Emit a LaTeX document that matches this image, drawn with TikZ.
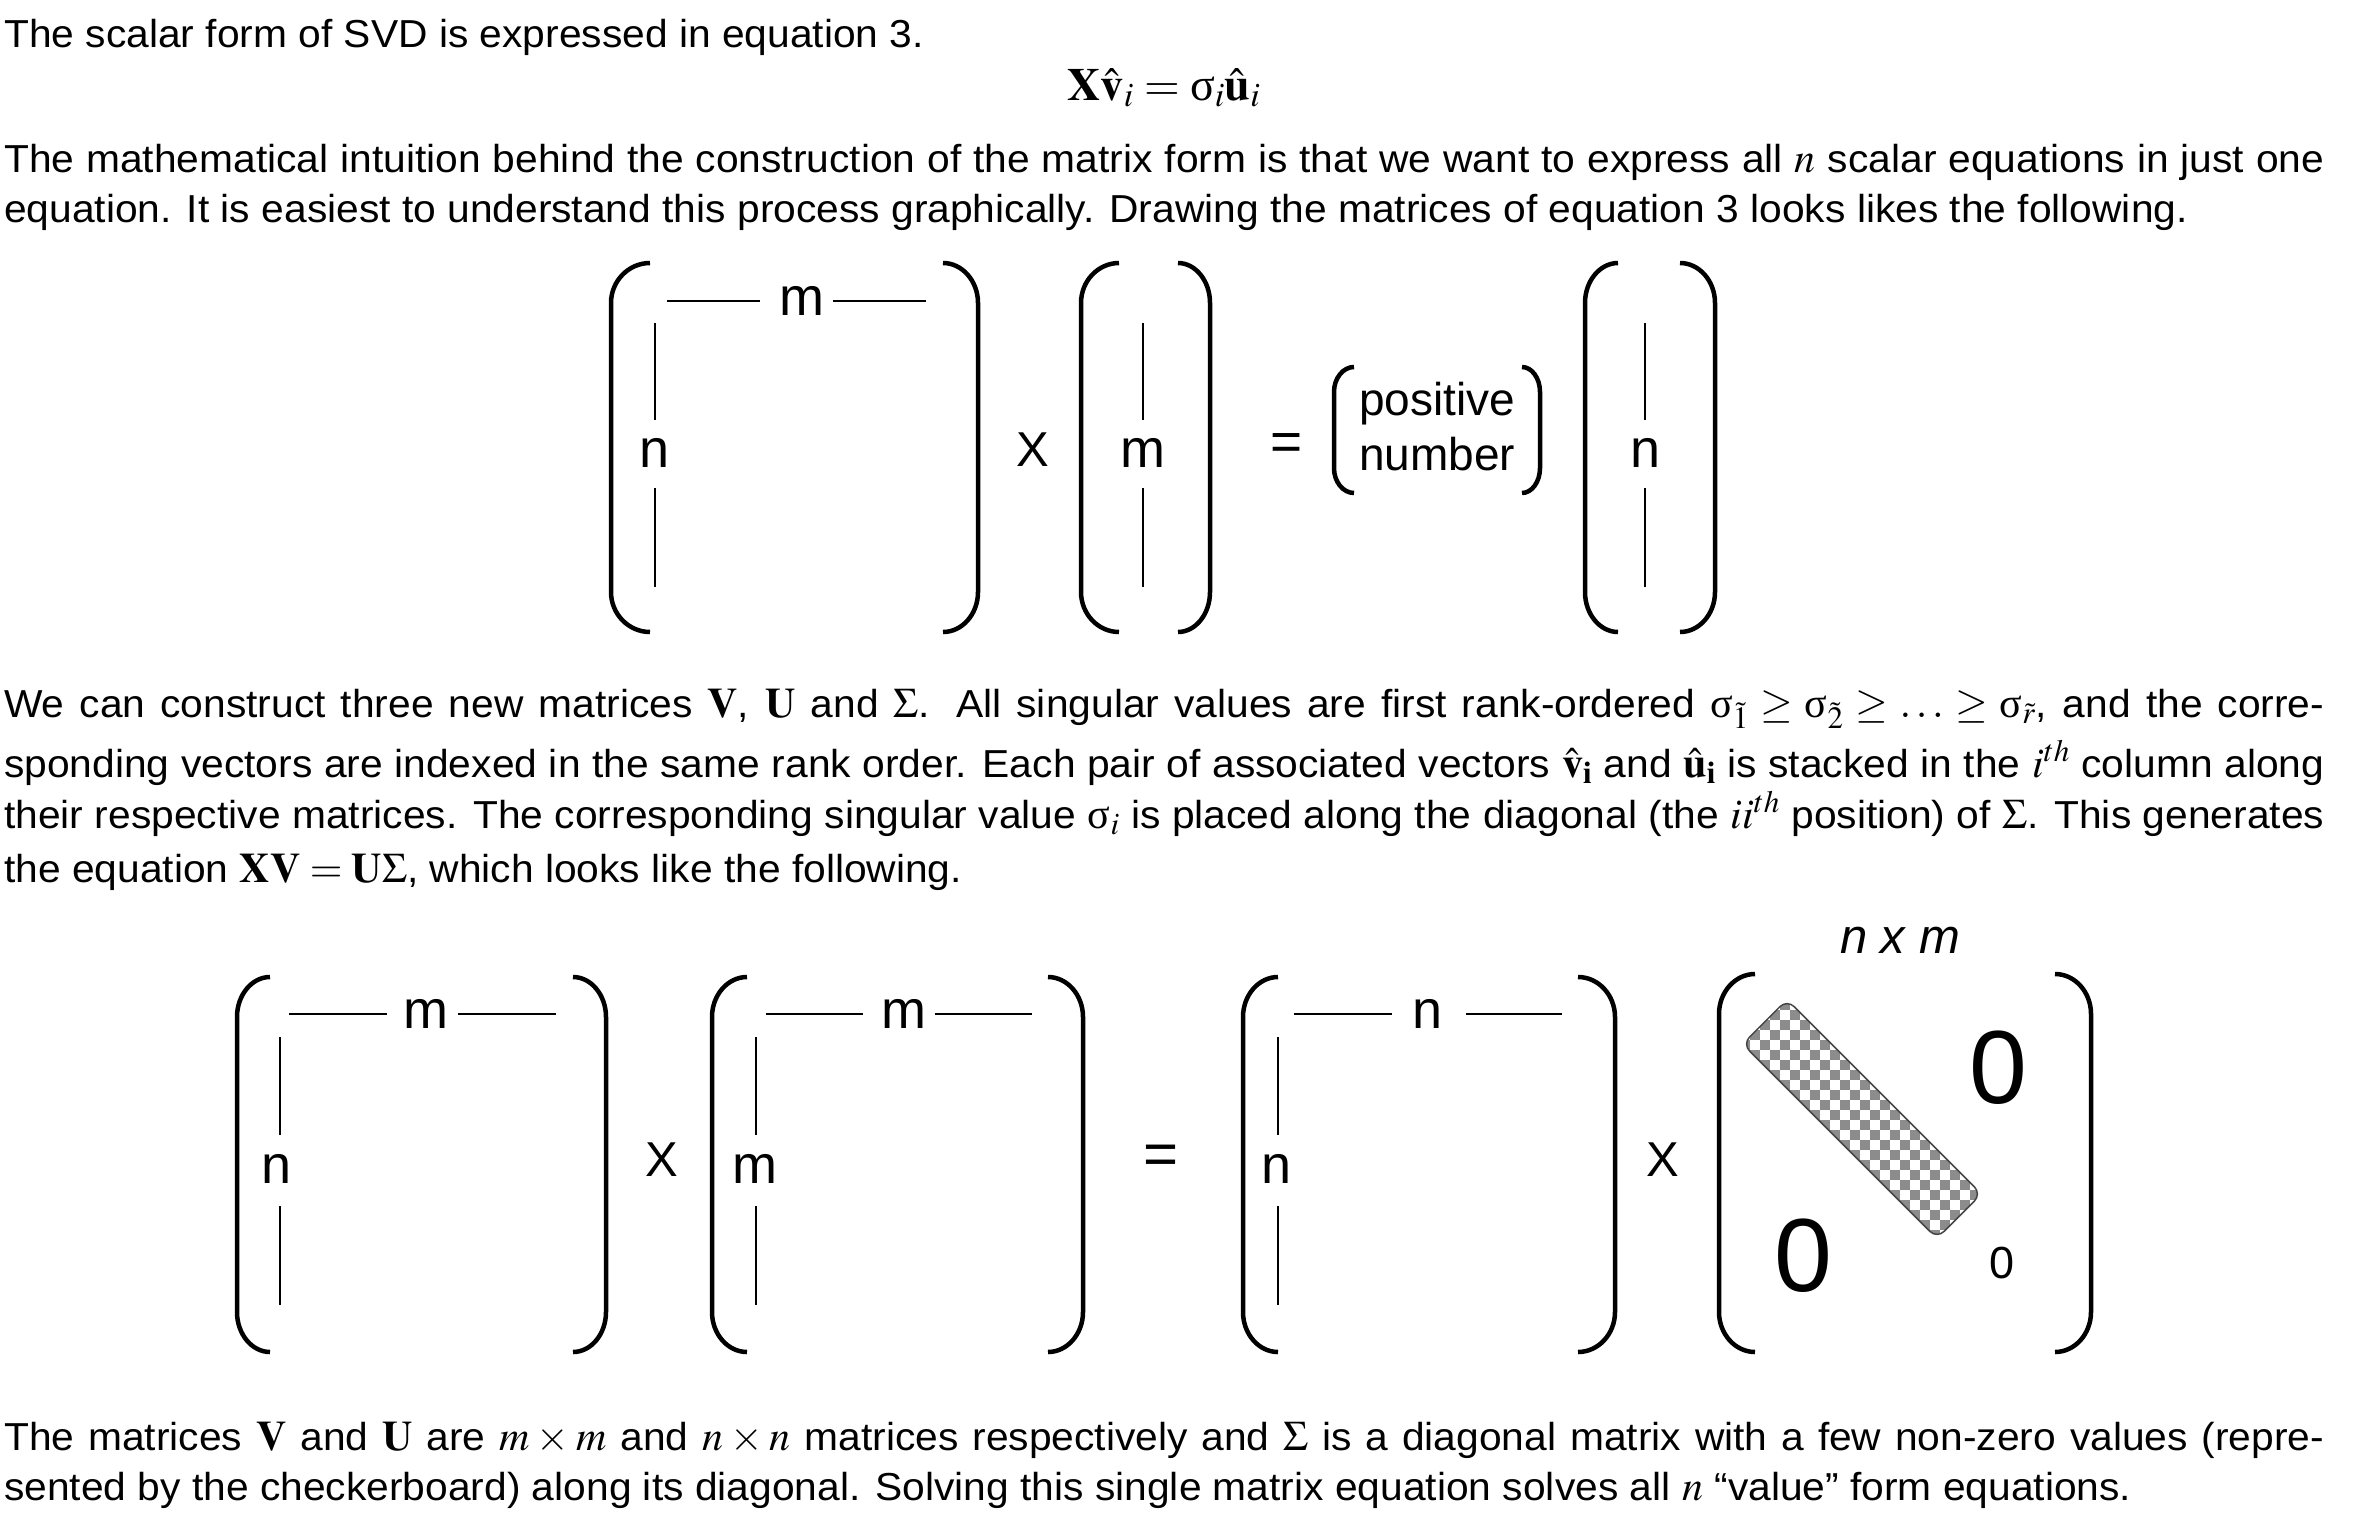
\documentclass[tikz,border=0pt]{standalone}
\usepackage{mathptmx}
\usepackage[no-math]{fontspec}
\setmainfont{Liberation Sans}
\newfontfamily\bodyfont{Liberation Sans}[FakeStretch=1.045]
\newfontfamily\grk{Liberation Serif}
\newcommand{\usig}{\mathord{\mbox{\grk σ}}}
\newcommand{\M}[1]{{\fontsize{42}{45}\selectfont$#1$}}
\definecolor{checkgray}{RGB}{140,140,140}
\definecolor{edgegray}{RGB}{70,70,70}
\newcommand{\Bracket}[5]{%
  \draw[paren] (#2,#3) .. controls ({#1+0.45*(#2-#1)},#3) and (#1,{#3+0.45*#5}) .. (#1,{#3+#5})
    -- (#1,{#4-#5}) .. controls (#1,{#4-0.45*#5}) and ({#1+0.45*(#2-#1)},#4) .. (#2,#4);}
\newcommand{\JL}[1]{\makebox[2320pt][s]{#1}}
\begin{document}
\begin{tikzpicture}[x=1pt,y=-1pt,
  txt/.style={anchor=base west,inner sep=0pt,font=\bodyfont\fontsize{39}{45}\selectfont},
  paren/.style={line width=4.5pt},
  dimln/.style={line width=1.8pt},
  lbl/.style={anchor=base,inner sep=0pt,font=\fontsize{54}{60}\selectfont},
  op/.style={inner sep=0pt,font=\fontsize{49}{55}\selectfont},
  small/.style={anchor=base west,inner sep=0pt,font=\fontsize{46}{50}\selectfont}]
\path[use as bounding box, fill=white] (0,0) rectangle (2354,1521);

% ---------- text ----------
\node[txt] (t1) at (4,47) {The scalar form of SVD is expressed in equation 3.};
\node[anchor=base,inner sep=0pt,font=\fontsize{46}{50}\selectfont] (eqn) at (1164,100)
  {$\mathbf{X}\hat{\mathbf{v}}_i=\usig_i\hat{\mathbf{u}}_i$};
\node[txt] (p2a) at (4,172) {\JL{The mathematical intuition behind the construction of the matrix form is that we want to express all \M{n} scalar equations in just one}};
\node[txt] (p2b) at (4,222) {equation. It is easiest to understand this process graphically. Drawing the matrices of equation 3 looks likes the following.};

\node[txt] (p3a) at (4,717) {\JL{We can construct three new matrices \M{\mathbf{V}}, \M{\mathbf{U}} and \M{\Sigma}. All singular values are first rank-ordered \M{\usig_{\tilde{1}}\geq\usig_{\tilde{2}}\geq\ldots\geq\usig_{\tilde{r}}}, and the corre-}};
\node[txt] (p3b) at (4,777) {\JL{sponding vectors are indexed in the same rank order. Each pair of associated vectors \M{\hat{\mathbf{v}}_\mathbf{i}} and \M{\hat{\mathbf{u}}_\mathbf{i}} is stacked in the \M{i^{th}} column along}};
\node[txt] (p3c) at (4,828) {\JL{their respective matrices. The corresponding singular value \M{\usig_i} is placed along the diagonal (the \M{ii^{th}} position) of \M{\Sigma}. This generates}};
\node[txt] (p3d) at (4,882) {the equation \M{\mathbf{XV}=\mathbf{U}\Sigma}, which looks like the following.};

\node[txt] (p4a) at (4,1450) {\JL{The matrices \M{\mathbf{V}} and \M{\mathbf{U}} are \M{m\times m} and \M{n\times n} matrices respectively and \M{\Sigma} is a diagonal matrix with a few non-zero values (repre-}};
\node[txt] (p4b) at (4,1500) {sented by the checkerboard) along its diagonal. Solving this single matrix equation solves all \M{n} “value” form equations.};

% ---------- top diagram ----------
\Bracket{611}{650}{263}{632}{40}
\Bracket{978}{943}{263}{632}{40}
\draw[dimln] (667,301)--(760,301) (833,301)--(926,301);
\node[lbl] (mA) at (802,315) {m};
\draw[dimln] (655,323)--(655,420) (655,488)--(655,587);
\node[lbl] (nA) at (655,467) {n};
\node[op] (x1) at (1033,450) {X};
\Bracket{1081}{1119}{263}{632}{40}
\Bracket{1210}{1178}{263}{632}{40}
\draw[dimln] (1143,323)--(1143,420) (1143,488)--(1143,587);
\node[lbl] (mB) at (1143,467) {m};
\node[op,font=\fontsize{55}{60}\selectfont] (eq1) at (1287,447) {=};
\Bracket{1334}{1354}{367}{493}{25}
\Bracket{1540}{1522}{367}{493}{25}
\node[small] (pos) at (1359,415) {positive};
\node[small] (num) at (1359,470) {number};
\Bracket{1585}{1618}{263}{632}{40}
\Bracket{1715}{1680}{263}{632}{40}
\draw[dimln] (1645,323)--(1645,420) (1645,488)--(1645,587);
\node[lbl] (nC) at (1645,467) {n};

% ---------- bottom diagram ----------
\Bracket{237}{270}{977}{1352}{40}
\Bracket{606}{573}{977}{1352}{40}
\draw[dimln] (289,1014)--(387,1014) (458,1014)--(556,1014);
\node[lbl] (mX) at (426,1028) {m};
\draw[dimln] (280,1037)--(280,1135) (280,1206)--(280,1305);
\node[lbl] (nX) at (277,1183) {n};
\node[op] (x2) at (662,1160) {X};
\Bracket{712}{747}{977}{1352}{40}
\Bracket{1083}{1048}{977}{1352}{40}
\draw[dimln] (766,1014)--(863,1014) (935,1014)--(1032,1014);
\node[lbl] (mV) at (904,1028) {m};
\draw[dimln] (756,1037)--(756,1135) (756,1206)--(756,1305);
\node[lbl] (mV2) at (755,1183) {m};
\node[op,font=\fontsize{60}{66}\selectfont] (eq2) at (1161,1160) {=};
\Bracket{1243}{1278}{977}{1352}{40}
\Bracket{1615}{1578}{977}{1352}{40}
\draw[dimln] (1294,1014)--(1392,1014) (1466,1014)--(1562,1014);
\node[lbl] (nU) at (1428,1028) {n};
\draw[dimln] (1278,1037)--(1278,1135) (1278,1206)--(1278,1305);
\node[lbl] (nU2) at (1277,1183) {n};
\node[op] (x3) at (1663,1160) {X};
\Bracket{1719}{1755}{974}{1352}{40}
\Bracket{2091}{2055}{974}{1352}{40}
\node[anchor=base,inner sep=0pt,font=\fontsize{49}{52}\selectfont\itshape] (nxm) at (1900,953) {n x m};

% checkerboard diagonal band
\begin{scope}
  \clip[rotate around={-45:(1862,1119)}, rounded corners=10pt] (1724.5,1087.5) rectangle (1999.5,1150.5);
  \foreach \i in {0,...,27}{
    \foreach \j in {0,...,26}{
      \pgfmathtruncatemacro\ckpar{mod(\i+\j,2)}
      \ifnum\ckpar=0
        \fill[checkgray] ({1730+\i*10},{990+\j*10}) rectangle ++(10,10);
      \fi
    }
  }
\end{scope}
\draw[edgegray, line width=1.5pt, rotate around={-45:(1862,1119)}, rounded corners=10pt] (1724.5,1087.5) rectangle (1999.5,1150.5);

\node[inner sep=0pt,font=\fontsize{104}{110}\selectfont] (z1) at (1998,1068) {0};
\node[inner sep=0pt,font=\fontsize{104}{110}\selectfont] (z2) at (1803,1256) {0};
\node[inner sep=0pt,font=\fontsize{45}{50}\selectfont] (z3) at (2002,1263) {0};
\end{tikzpicture}
\end{document}
